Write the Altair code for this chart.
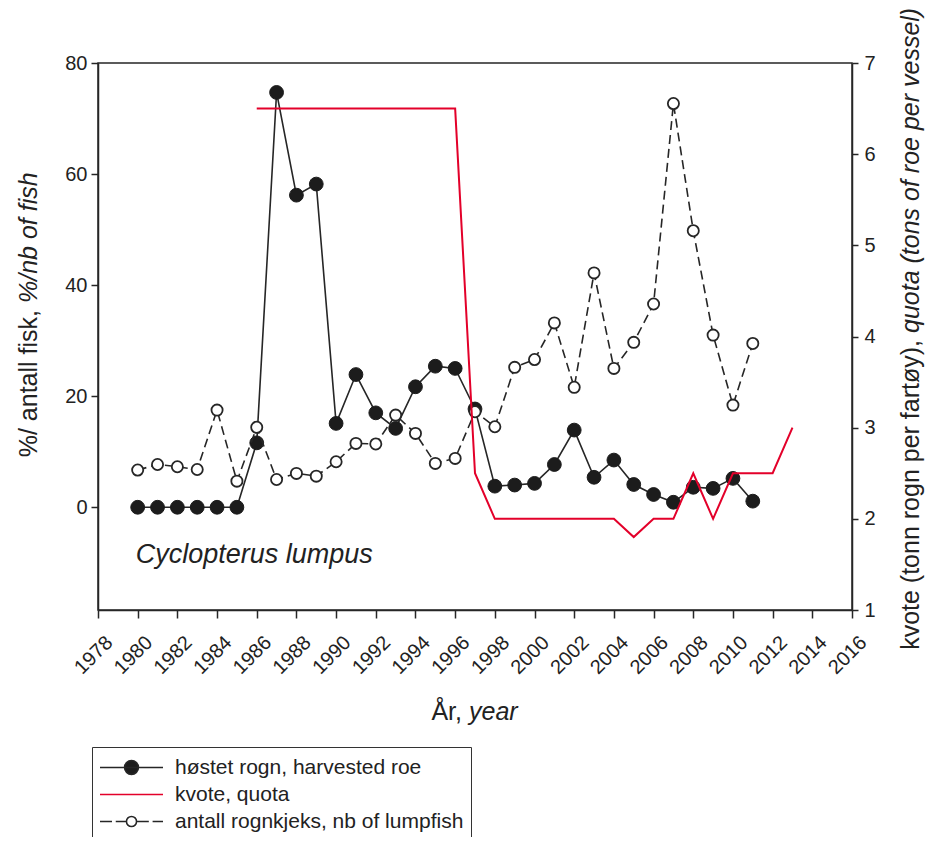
import altair as alt
import pandas as pd

# ---------------- data ----------------
years = list(range(1980, 2012))
harvested_roe = [0, 0, 0, 0, 0, 0,
                 11.6, 74.7, 56.2, 58.2, 15.1, 23.9, 17.0, 14.2, 21.7, 25.4,
                 25.0, 17.7, 3.8, 4.0, 4.3, 7.7, 13.9, 5.4, 8.5, 4.1,
                 2.3, 0.9, 3.6, 3.4, 5.2, 1.1]
lumpfish = [6.7, 7.7, 7.3, 6.8, 17.5, 4.7, 14.4, 5.0, 6.1, 5.6,
            8.2, 11.5, 11.4, 16.6, 13.3, 7.9, 8.8, 17.2, 14.5, 25.2,
            26.6, 33.2, 21.6, 42.2, 25.0, 29.7, 36.6, 72.7, 49.8, 31.0,
            18.4, 29.5]
quota_years = list(range(1986, 2014))
quota = [6.5, 6.5, 6.5, 6.5, 6.5, 6.5, 6.5, 6.5, 6.5, 6.5, 6.5,
         2.5, 2.0, 2.0, 2.0, 2.0, 2.0, 2.0, 2.0, 1.8, 2.0, 2.0,
         2.5, 2.0, 2.5, 2.5, 2.5, 3.0]

series_names = ["høstet rogn, harvested roe",
                "kvote, quota",
                "antall rognkjeks, nb of lumpfish"]
x_ticks = list(range(1978, 2017, 2))
left_ticks = [0, 20, 40, 60, 80]
right_ticks = [1, 2, 3, 4, 5, 6, 7]

left_title_reg = "%/ antall fisk,"
left_title_it = "%/nb of fish"
right_title_reg = "kvote (tonn rogn per fartøy),"
right_title_it = "quota (tons of roe per vessel)"
x_title_reg = "År,"
x_title_it = "year"
species = "Cyclopterus lumpus"

# ---------------- styling ----------------
FONT = "Liberation Sans"
DARK = "#262626"
RED = "#e3002a"

hr_df = pd.DataFrame({"year": years, "value": harvested_roe})
lf_df = pd.DataFrame({"year": years, "value": lumpfish})
q_df = pd.DataFrame({"year": quota_years, "value": quota})
all_df = pd.concat([
    hr_df.assign(series=series_names[0]),
    q_df.assign(series=series_names[1]),
    lf_df.assign(series=series_names[2]),
])

x_axis = alt.Axis(values=x_ticks, tickCount=len(x_ticks) + 2, format="d",
                  labelAngle=-45, labelAlign="right",
                  labelBaseline="top", labelPadding=14, labelOffset=4,
                  labelOverlap=False, labelFlush=False, labelBound=False,
                  labelFontSize=20, tickSize=8, title=None, grid=False)
x_enc = alt.X("year:Q", scale=alt.Scale(domain=[1978, 2016], nice=False, zero=False), axis=x_axis)

y_left = alt.Y(
    "value:Q",
    scale=alt.Scale(domain=[-18.5, 80], nice=False, zero=False),
    axis=alt.Axis(values=left_ticks, labelFontSize=20, tickSize=7, labelPadding=4,
                  title=None, grid=False),
)
y_right = alt.Y(
    "value:Q",
    scale=alt.Scale(domain=[1, 7], nice=False, zero=False),
    axis=alt.Axis(values=right_ticks, orient="right", labelFontSize=20, tickSize=6,
                  labelPadding=6, title=None, grid=False),
)

hr_line = alt.Chart(hr_df).mark_line(color=DARK, strokeWidth=1.6).encode(x=x_enc, y=y_left)
hr_pts = alt.Chart(hr_df).mark_point(shape="circle", filled=True, fill="#1c1c1c",
                                     stroke="#1c1c1c", strokeWidth=1, opacity=1,
                                     size=190).encode(x=x_enc, y=y_left)
lf_line = alt.Chart(lf_df).mark_line(color=DARK, strokeWidth=1.6,
                                     strokeDash=[9, 5]).encode(x=x_enc, y=y_left)
lf_pts = alt.Chart(lf_df).mark_point(shape="circle", filled=False, fill="white",
                                     fillOpacity=1, stroke=DARK, strokeWidth=1.8,
                                     opacity=1, size=125).encode(x=x_enc, y=y_left)

# legend (built from an invisible point layer of all three series)
paths = [
    "M-1,0L1,0M-0.22,0A0.22,0.22,0,1,1,0.22,0A0.22,0.22,0,1,1,-0.22,0Z",
    "M-1,0L1,0",
    "M-1,0L-0.62,0M-0.5,0L-0.16,0M0.16,0L0.55,0M0.67,0L1,0"
    "M-0.16,0A0.16,0.16,0,1,1,0.16,0A0.16,0.16,0,1,1,-0.16,0Z",
]
legend = alt.Legend(title=None, orient="none", legendX=-6, legendY=684,
                    direction="vertical", symbolSize=3969, symbolStrokeWidth=1.6,
                    symbolOpacity=1, clipHeight=27, labelFont=FONT, labelFontSize=21,
                    labelColor="#222222", labelOffset=11, padding=7,
                    strokeColor="#333333", fillColor="white", rowPadding=0,
                    labelLimit=500)
legend_layer = alt.Chart(all_df).mark_point(opacity=0).encode(
    x=x_enc, y=y_left,
    shape=alt.Shape("series:N", scale=alt.Scale(domain=series_names, range=paths), legend=legend),
    fill=alt.Fill("series:N", scale=alt.Scale(domain=series_names, range=["#1c1c1c", "white", "white"]), legend=legend),
    stroke=alt.Stroke("series:N", scale=alt.Scale(domain=series_names, range=[DARK, RED, DARK]), legend=legend),
)

species_text = alt.Chart(pd.DataFrame({"t": [species]})).mark_text(
    font=FONT, fontSize=27, fontStyle="italic", align="left", baseline="middle", color="#222222"
).encode(x=alt.datum(1979.9), y=alt.datum(-8.6), text="t:N")


def title_text(txt, x, y, angle, align, italic):
    props = dict(font=FONT, fontSize=25, align=align, baseline="middle", color="#222222")
    if angle:
        props["angle"] = angle
    if italic:
        props["fontStyle"] = "italic"
    return alt.Chart(pd.DataFrame({"t": [txt]})).mark_text(**props).encode(
        x=alt.value(x), y=alt.value(y), text="t:N")


titles = [
    title_text(left_title_reg, -69, 247, 270, "right", False),
    title_text(left_title_it, -69, 240, 270, "left", True),
    title_text(x_title_reg, 364, 649, 0, "right", False),
    title_text(x_title_it, 371, 649, 0, "left", True),
    title_text(right_title_reg, 813, 277, 270, "right", False),
    title_text(right_title_it, 813, 270, 270, "left", True),
]

left_group = alt.layer(hr_line, legend_layer, hr_pts, lf_line, lf_pts, species_text, *titles)
quota_line = alt.Chart(q_df).mark_line(color=RED, strokeWidth=2).encode(x=x_enc, y=y_right)

chart = alt.layer(left_group, quota_line).resolve_scale(y="independent").properties(
    width=754, height=547,
    padding={"left": 90, "top": 55, "right": 73, "bottom": 227},
    autosize=alt.AutoSizeParams(type="none"),
    background="white",
).configure_view(
    stroke=DARK, strokeWidth=1.5
).configure_axis(
    domainColor=DARK, tickColor=DARK, labelColor="#222222", labelFont=FONT,
    domainWidth=1.5, tickWidth=1.5, grid=False
)

chart.save("out.html", embed_options={"renderer": "svg", "actions": False})
